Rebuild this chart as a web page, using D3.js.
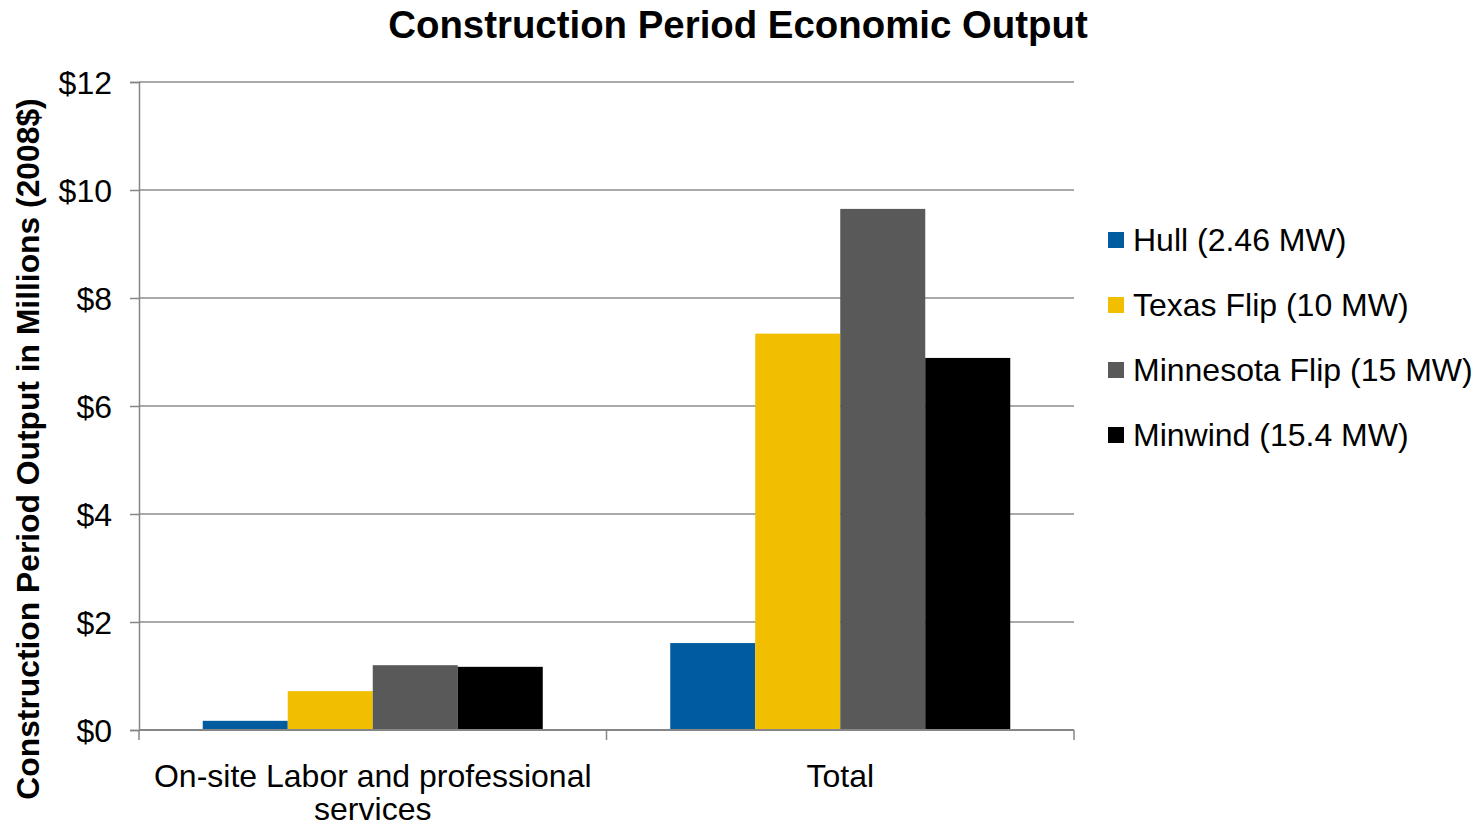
<!DOCTYPE html>
<html>
<head>
<meta charset="utf-8">
<script src="https://cdn.jsdelivr.net/npm/d3@7"></script>
<style>
  body { margin: 0; background: #fff; }
  text { font-family: "Liberation Sans", Arial, sans-serif; fill: #000; }
</style>
</head>
<body>
<svg id="chart" width="1475" height="827"></svg>
<script>
const categories = ["On-site Labor and professional services", "Total"]
const categoryLines = [["On-site Labor and professional", "services"], ["Total"]]
const seriesNames = ["Hull (2.46 MW)", "Texas Flip (10 MW)", "Minnesota Flip (15 MW)", "Minwind (15.4 MW)"]
const seriesColors = ["#005b9f", "#f2be00", "#595959", "#000000"]
// values in $ millions, [on-site, total]
const hull = [0.17, 1.61]
const texasFlip = [0.72, 7.34]
const minnesotaFlip = [1.20, 9.65]
const minwind = [1.17, 6.89]
const yTicks = [0, 2, 4, 6, 8, 10, 12]

const series = [hull, texasFlip, minnesotaFlip, minwind]

const svg = d3.select("#chart")
const plotLeft = 139, plotRight = 1074, plotTop = 82, plotBottom = 730

let y = d3.scaleLinear().domain([0, 12]).range([plotBottom, plotTop])
let x0 = d3.scaleBand().domain(categories).range([plotLeft, plotRight])
    .paddingInner(0.2727).paddingOuter(0.13635)
let x1 = d3.scaleBand().domain(seriesNames).range([0, x0.bandwidth()])

// gridlines
svg.append("g")
    .selectAll("line")
    .data(yTicks.filter(d => d > 0))
    .join("line")
    .attr("x1", plotLeft).attr("x2", plotRight)
    .attr("y1", d => y(d)).attr("y2", d => y(d))
    .attr("stroke", "#8c8c8c").attr("stroke-width", 1.5)

// bars
svg.append("g")
    .selectAll("g")
    .data(categories)
    .join("g")
    .attr("transform", d => `translate(${x0(d)},0)`)
    .selectAll("rect")
    .data((c, ci) => series.map((s, si) => ({ name: seriesNames[si], value: s[ci], color: seriesColors[si] })))
    .join("rect")
    .attr("x", d => x1(d.name))
    .attr("width", x1.bandwidth())
    .attr("y", d => y(d.value))
    .attr("height", d => y(0) - y(d.value))
    .attr("fill", d => d.color)

// y axis
let yAxis = d3.axisLeft(y).tickValues(yTicks).tickSize(9).tickPadding(18)
    .tickFormat(d => "$" + d)
let ya = svg.append("g").attr("transform", `translate(${plotLeft},0)`).call(yAxis)
ya.select(".domain").attr("stroke", "#868686").attr("stroke-width", 1.5)
ya.selectAll(".tick line").attr("stroke", "#868686").attr("stroke-width", 1.5)
ya.selectAll(".tick text")
    .attr("font-size", 32).attr("font-family", "Liberation Sans, Arial, sans-serif")
    .attr("fill", "#000").attr("dy", "0.36em")

// x axis
svg.append("line")
    .attr("x1", plotLeft).attr("x2", plotRight).attr("y1", plotBottom).attr("y2", plotBottom)
    .attr("stroke", "#868686").attr("stroke-width", 2)
svg.append("g")
    .selectAll("line")
    .data([plotLeft, ...categories.map(c => x0(c) + x0.bandwidth() + x0.step() * x0.paddingInner() / 2)])
    .join("line")
    .attr("x1", d => Math.min(d, plotRight)).attr("x2", d => Math.min(d, plotRight))
    .attr("y1", plotBottom).attr("y2", plotBottom + 10)
    .attr("stroke", "#868686").attr("stroke-width", 1.5)

svg.append("g")
    .selectAll("text")
    .data(categories)
    .join("text")
    .attr("x", d => x0(d) + x0.bandwidth() / 2)
    .attr("y", 787)
    .attr("text-anchor", "middle")
    .attr("font-size", 32)
    .selectAll("tspan")
    .data((d, i) => categoryLines[i])
    .join("tspan")
    .attr("x", function () { return this.parentNode.getAttribute("x") })
    .attr("dy", (d, i) => i == 0 ? 0 : 33)
    .text(d => d)

// title
svg.append("text")
    .attr("x", 738).attr("y", 38)
    .attr("text-anchor", "middle")
    .attr("font-size", 38.4).attr("font-weight", "bold")
    .text("Construction Period Economic Output")

// y title
svg.append("text")
    .attr("transform", "translate(39,449) rotate(-90)")
    .attr("text-anchor", "middle")
    .attr("font-size", 31.8).attr("font-weight", "bold")
    .text("Construction Period Output in Millions (2008$)")

// legend
let legend = svg.append("g")
    .selectAll("g")
    .data(seriesNames)
    .join("g")
    .attr("transform", (d, i) => `translate(1108,${240 + i * 65})`)
legend.append("rect")
    .attr("x", 0).attr("y", -8).attr("width", 16).attr("height", 16)
    .attr("fill", (d, i) => seriesColors[i])
legend.append("text")
    .attr("x", 25).attr("y", 11)
    .attr("font-size", 32)
    .text(d => d)
</script>
</body>
</html>
